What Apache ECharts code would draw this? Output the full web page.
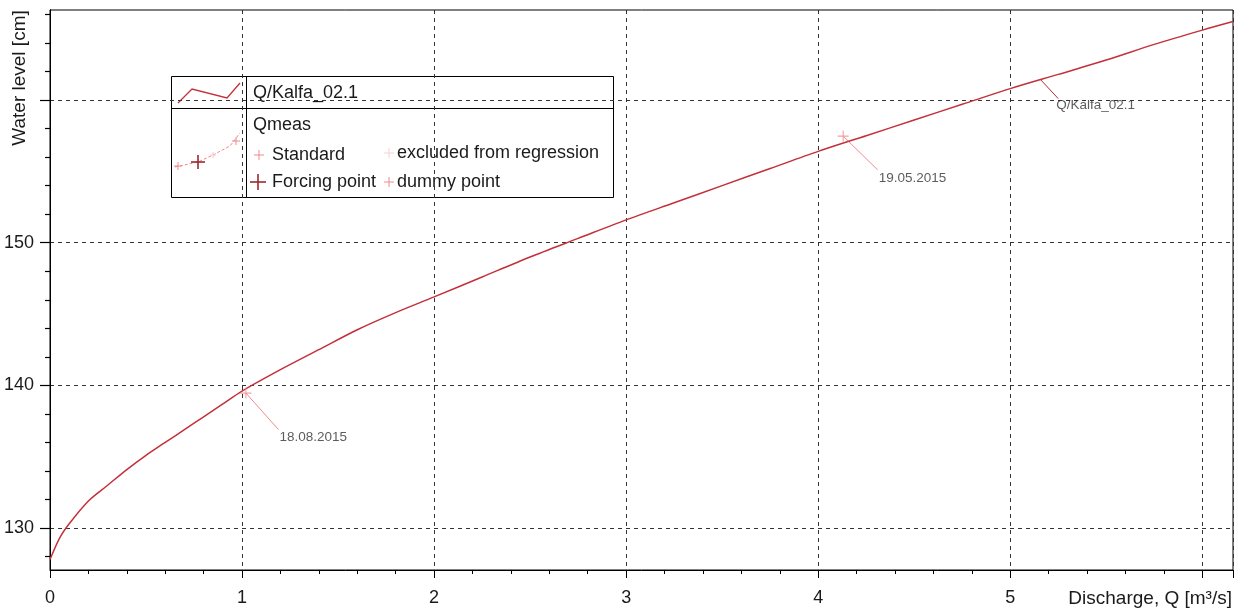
<!DOCTYPE html>
<html>
<head>
<meta charset="utf-8">
<script src="https://cdn.jsdelivr.net/npm/echarts@6/dist/echarts.min.js"></script>
<style>
  html, body { margin: 0; padding: 0; background: #fff; }
  #chart { width: 1244px; height: 612px; }
</style>
</head>
<body>
<div id="chart"></div>
<script>
  // rating curve Q/Kalfa_02.1
  const discharge = [0, 0.05, 0.1, 0.2, 0.3, 0.4, 0.5, 0.6, 0.7, 0.8, 0.9, 1.0, 1.2, 1.4, 1.6, 1.8, 2.0,
    2.25, 2.5, 2.75, 3.0, 3.25, 3.5, 3.75, 4.0, 4.25, 4.5, 4.75, 5.0, 5.25, 5.5, 5.75, 6.0, 6.16];
  const waterLevel = [127.8, 129.3, 130.3, 131.9, 133.0, 134.1, 135.1, 136.0, 136.9, 137.8, 138.7, 139.6, 141.1, 142.5, 143.9, 145.1, 146.2,
    147.6, 149.0, 150.3, 151.6, 152.8, 154.0, 155.2, 156.4, 157.5, 158.6, 159.7, 160.8, 161.8, 162.8, 163.9, 164.9, 165.5];

  // measurements (Qmeas, standard)
  const measQ = [1.02, 4.13];
  const measH = [139.46, 157.47];
  const measDates = ['18.08.2015', '19.05.2015'];

  // callout ends, in data units
  const calloutQ = [1.19, 4.31, 5.25];
  const calloutH = [136.9, 155.1, 160.1];
  const calloutText = ['18.08.2015', '19.05.2015', 'Q/Kalfa_02.1'];
  const curveLabelAt = [5.16, 161.4];

  const xTicks = [0, 1, 2, 3, 4, 5];
  const yMajor = [130, 140, 150, 160];
  const yLabels = [130, 140, 150];
  const yMinor = [128, 132, 134, 136, 138, 142, 144, 146, 148, 152, 154, 156, 158, 162, 164, 166];

  const FONT = '"Liberation Sans", Arial, sans-serif';
  const curveColor = '#c4303a';
  const measColor = '#ef8a8e';
  const cross = 'path://M4.5,0H5.5V4.5H10V5.5H5.5V10H4.5V5.5H0V4.5H4.5Z';

  function legendCross(x, y, s, color, w) {
    return [
      { type: 'line', shape: { x1: x - s, y1: y, x2: x + s, y2: y }, style: { stroke: color, lineWidth: w } },
      { type: 'line', shape: { x1: x, y1: y - s, x2: x, y2: y + s }, style: { stroke: color, lineWidth: w } }
    ];
  }
  function legendText(x, y, t) {
    return { type: 'text', x: x, y: y, style: { text: t, font: '18px ' + FONT, fill: '#1a1a1a', verticalAlign: 'middle' } };
  }

  const legendItems = [].concat(
    [{ type: 'rect', shape: { x: 171.5, y: 76.5, width: 442, height: 121 }, style: { fill: '#fff', stroke: '#000', lineWidth: 1 } },
     { type: 'line', shape: { x1: 171.5, y1: 108.5, x2: 613.5, y2: 108.5 }, style: { stroke: '#000', lineWidth: 1 } },
     { type: 'line', shape: { x1: 246.5, y1: 76.5, x2: 246.5, y2: 197.5 }, style: { stroke: '#000', lineWidth: 1 } },
     { type: 'polyline', shape: { points: [[178, 103], [192, 89], [227, 98], [240, 83]] }, style: { stroke: curveColor, lineWidth: 1.3, fill: null } },
     legendText(253, 93, 'Q/Kalfa_02.1'),
     { type: 'polyline', shape: { points: [[175, 167], [198, 162], [213, 155], [230, 146], [240, 133]] }, style: { stroke: measColor, lineWidth: 1, lineDash: [3, 2], fill: null } }],
    legendCross(178, 166, 4, measColor, 1),
    legendCross(213, 155, 3, '#f6c8ca', 1),
    legendCross(236, 141, 4, measColor, 1),
    legendCross(198, 162, 7, '#9b2a30', 1.6),
    [legendText(253, 125, 'Qmeas')],
    legendCross(259, 155, 5, measColor, 1),
    [legendText(272, 155, 'Standard')],
    legendCross(389, 153, 5, '#f7d3d5', 1),
    [legendText(397, 153, 'excluded from regression')],
    legendCross(258, 182, 8, '#9b2a30', 1.6),
    [legendText(272, 182, 'Forcing point')],
    legendCross(389, 182, 5, measColor, 1),
    [legendText(397, 182, 'dummy point')]
  );

  const calloutOffset = [[1, 1], [1, 1], [-2, 0]];

  const chart = echarts.init(document.getElementById('chart'));
  chart.setOption({
    animation: false,
    grid: { left: 50, right: 11, top: 10, bottom: 42, show: true, borderColor: '#000', borderWidth: 1 },
    xAxis: {
      type: 'value', min: 0, max: 6.16, interval: 1,
      axisLine: { show: true, lineStyle: { color: '#000' } },
      axisTick: { show: true, length: 8, lineStyle: { color: '#000' } },
      minorTick: { show: true, splitNumber: 5, length: 4, lineStyle: { color: '#000' } },
      axisLabel: { customValues: xTicks, fontSize: 18, fontFamily: FONT, color: '#1a1a1a', margin: 19 },
      splitLine: { show: true, lineStyle: { color: '#333', type: [4, 4] } }
    },
    yAxis: [{
      type: 'value', min: 127.06, max: 166.31, position: 'left',
      axisLine: { show: true, lineStyle: { color: '#000' } },
      axisTick: { show: true, customValues: yMajor, length: 10, lineStyle: { color: '#000', width: 1.2 } },
      axisLabel: { customValues: yLabels, fontSize: 18, fontFamily: FONT, color: '#1a1a1a', margin: 16 },
      splitLine: { show: true, lineStyle: { color: '#333', type: [4, 4] } }
    }, {
      type: 'value', min: 127.06, max: 166.31, position: 'left', offset: 0,
      axisLine: { show: true, lineStyle: { color: '#000' } },
      axisTick: { show: true, customValues: yMinor, length: 5, lineStyle: { color: '#000', width: 1.2 } },
      axisLabel: { show: true, customValues: yMinor, formatter: () => '' },
      splitLine: { show: false }
    }],
    series: [
      {
        name: 'Q/Kalfa_02.1', type: 'line', smooth: 0.3, symbol: 'none',
        lineStyle: { color: curveColor, width: 1.5 },
        data: discharge.map((q, i) => [q, waterLevel[i]]),
        z: 3
      },
      {
        name: 'Qmeas', type: 'scatter', symbol: cross, symbolSize: 11,
        itemStyle: { color: measColor },
        data: measQ.map((q, i) => [q, measH[i], measDates[i]]),
        z: 4
      },
      {
        type: 'lines', coordinateSystem: 'cartesian2d',
        lineStyle: { width: 1, opacity: 1 },
        data: [
          { coords: [[measQ[0], measH[0]], [calloutQ[0], calloutH[0]]], lineStyle: { color: measColor } },
          { coords: [[measQ[1], measH[1]], [calloutQ[1], calloutH[1]]], lineStyle: { color: measColor } },
          { coords: [curveLabelAt, [calloutQ[2], calloutH[2]]], lineStyle: { color: '#a83038' } }
        ],
        z: 2
      },
      {
        type: 'scatter', yAxisIndex: 1, symbolSize: 0, silent: true,
        label: { show: true, formatter: p => p.value[2], fontSize: 13.5, fontFamily: FONT, color: '#333' },
        data: calloutQ.map((q, i) => ({
          value: [q, calloutH[i], calloutText[i]],
          label: { position: calloutOffset[i] }
        }))
      }
    ],
    graphic: [
      {
        type: 'text', x: 20, y: 78, rotation: Math.PI / 2,
        style: { text: 'Water level [cm]', font: '19px ' + FONT, fill: '#1a1a1a', align: 'center', verticalAlign: 'middle' }
      },
      {
        type: 'text', x: 1232, y: 599,
        style: { text: 'Discharge, Q [m³/s]', font: '19px ' + FONT, fill: '#1a1a1a', align: 'right', verticalAlign: 'middle' }
      },
      { type: 'group', z: 20, children: legendItems }
    ]
  });
</script>
</body>
</html>
